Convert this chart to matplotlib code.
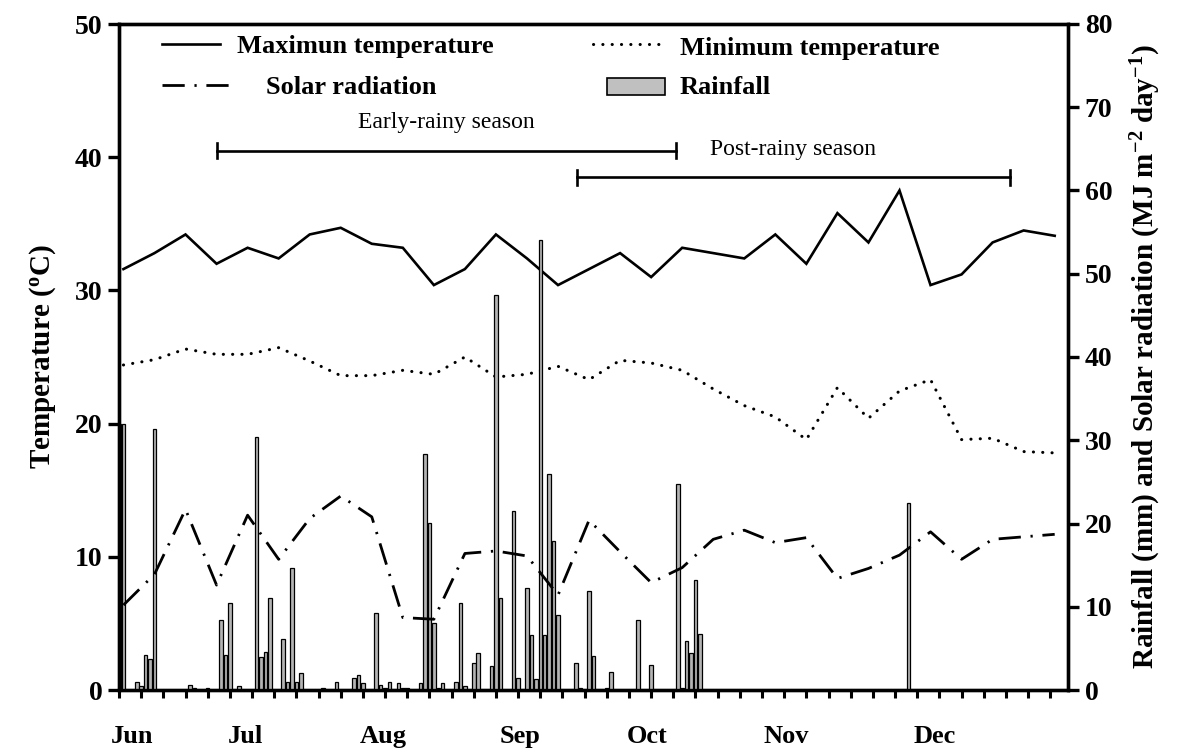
import matplotlib
matplotlib.use("Agg")
import matplotlib.pyplot as plt
from matplotlib.lines import Line2D
from matplotlib.patches import Rectangle

plt.rcParams['font.family'] = ['Liberation Serif', 'DejaVu Serif']
plt.rcParams['mathtext.fontset'] = 'custom'
plt.rcParams['mathtext.rm'] = 'Liberation Serif:bold'
plt.rcParams['mathtext.it'] = 'Liberation Serif:bold'
plt.rcParams['mathtext.bf'] = 'Liberation Serif:bold'

# ---------------- data ----------------
week_day = [1, 8, 15, 22, 29, 36, 43, 50, 57, 64, 71, 78, 85, 92, 99, 106,
            113, 120, 127, 134, 141, 148, 155, 162, 169, 176, 183, 190, 197, 204, 211]
tmax = [31.6, 32.8, 34.2, 32.0, 33.2, 32.4, 34.2, 34.7, 33.5, 33.2, 30.4, 31.6,
        34.2, 32.4, 30.4, 31.6, 32.8, 31.0, 33.2, 32.8, 32.4, 34.2, 32.0, 35.8,
        33.6, 37.5, 30.4, 31.2, 33.6, 34.5, 34.1]
tmin = [24.4, 24.8, 25.6, 25.2, 25.2, 25.7, 24.7, 23.6, 23.6, 24.0, 23.7, 25.0,
        23.5, 23.7, 24.3, 23.3, 24.75, 24.55, 24.0, 22.6, 21.35, 20.5, 18.8, 22.7,
        20.4, 22.45, 23.3, 18.8, 18.9, 17.9, 17.8]
solar = [10.2, 13.9, 21.7, 12.6, 21.0, 15.7, 20.6, 23.3, 20.8, 8.7, 8.5, 16.4,
         16.7, 16.1, 11.4, 20.4, 16.6, 12.9, 14.7, 18.1, 19.2, 17.7, 18.3, 13.4,
         14.6, 16.2, 19.0, 15.7, 18.1, 18.4, 18.7]

rain_day = [0, 1, 4, 5, 6, 7, 8, 16, 17, 20, 23, 24, 25, 27, 31, 32, 33, 34, 37, 38,
            39, 40, 41, 46, 49, 53, 54, 55, 58, 59, 60, 61, 63, 64, 65, 68, 69, 70,
            71, 72, 73, 76, 77, 78, 80, 81, 84, 85, 86, 89, 90, 92, 93, 94, 95, 96,
            97, 98, 99, 103, 104, 106, 107, 110, 111, 117, 120, 126, 127, 128, 129,
            130, 131, 178]
rain_mm = [32.0, 32.0, 1.0, 0.45, 4.2, 3.7, 31.4, 0.55, 0.3, 0.3, 8.4, 4.2, 10.5, 0.5,
           30.4, 4.0, 4.6, 11.0, 6.1, 1.0, 14.7, 1.0, 2.1, 0.3, 1.0, 1.4, 1.8, 0.85,
           9.2, 0.65, 0.3, 1.0, 0.8, 0.3, 0.3, 0.8, 28.3, 20.1, 8.1, 0.2, 0.8, 1.0,
           10.5, 0.45, 3.3, 4.4, 2.9, 47.5, 11.0, 21.5, 1.5, 12.3, 6.6, 1.3, 54.1,
           6.6, 26.0, 17.9, 9.0, 3.3, 0.25, 11.9, 4.1, 0.25, 2.2, 8.4, 3.0, 24.8,
           0.3, 5.9, 4.5, 13.2, 6.7, 22.5]

month_labels = ['Jun', 'Jul', 'Aug', 'Sep', 'Oct', 'Nov', 'Dec']
month_pos = [3, 28.5, 59.5, 90.5, 119, 150.5, 184]

seasons = ['Early-rainy season', 'Post-rainy season']
season_start = [22, 103.3]
season_end = [125.6, 200.9]
season_level = [40.5, 38.5]

# ---------------- figure ----------------
W, H = 1184, 754
fig = plt.figure(figsize=(W / 100, H / 100), dpi=100)
L, R, T, B = 119, 1068, 24, 690
ax = fig.add_axes([L / W, 1 - B / H, (R - L) / W, (B - T) / H])
ax2 = ax.twinx()

FS = 19
bold = dict(fontsize=FS, fontweight='bold')

# temperatures
ax.plot(week_day, tmax, color='black', lw=1.9, solid_joinstyle='miter')
ax.plot(week_day, tmin, color='black', lw=2.2, linestyle=(0, (0.05, 3.0)),
        dash_capstyle='round')
ax.set_xlim(0, 214)
ax.set_ylim(0, 50)
ax.set_yticks([0, 10, 20, 30, 40, 50])
ax.set_xticks(list(range(0, 214, 5)))
ax.set_xticklabels([])

# rainfall + solar
ax2.bar(rain_day, rain_mm, width=0.8, color='#b4b4b4', edgecolor='black', linewidth=0.9,
        zorder=2)
ax2.plot(week_day, solar, color='black', lw=2.0, linestyle=(0, (8, 3.5, 0.8, 3.5)),
         zorder=3)
ax2.set_ylim(0, 80)
ax2.set_yticks([0, 10, 20, 30, 40, 50, 60, 70, 80])

for a in (ax, ax2):
    for s in a.spines.values():
        s.set_linewidth(2.4)
ax.tick_params(axis='y', direction='out', length=8, width=2.4, pad=4, labelsize=FS + 1)
ax.tick_params(axis='x', direction='out', length=6, width=2.2, pad=4)
ax2.tick_params(axis='y', direction='out', length=8, width=2.4, pad=4, labelsize=FS + 1)
for lab in ax.get_yticklabels() + ax2.get_yticklabels():
    lab.set_fontweight('bold')

ax.set_ylabel('Temperature ($^{\\mathrm{o}}$C)', labelpad=12, fontsize=21,
              fontweight='bold')
ax2.set_ylabel('Rainfall (mm) and Solar radiation (MJ m$^{-2}$ day$^{-1}$)',
               labelpad=12, fontsize=21, fontweight='bold')

# month labels
for lab, pos in zip(month_labels, month_pos):
    ax.text(pos, -2.6, lab, ha='center', va='top', clip_on=False, **bold)

# seasons
for name, s, e, lv in zip(seasons, season_start, season_end, season_level):
    ax.plot([s, e], [lv, lv], color='black', lw=1.9)
    ax.plot([s, s], [lv - 0.55, lv + 0.55], color='black', lw=1.9)
    ax.plot([e, e], [lv - 0.55, lv + 0.55], color='black', lw=1.9)
    ax.text((s + e) / 2, lv + 1.3, name, ha='center', va='bottom', fontsize=FS - 2)

# legend (manual)
def fx(x):
    return x / W

def fy(y):
    return 1 - y / H

fig.add_artist(Line2D([fx(162), fx(220)], [fy(44), fy(44)], color='black', lw=1.9))
fig.text(fx(237), fy(46), 'Maximun temperature', va='center', ha='left', **bold)
fig.add_artist(Line2D([fx(593), fx(665)], [fy(44), fy(44)], color='black', lw=2.2,
                      linestyle=(0, (0.05, 3.0)), dash_capstyle='round'))
fig.text(fx(680), fy(48), 'Minimum temperature', va='center', ha='left', **bold)
fig.add_artist(Line2D([fx(162), fx(237)], [fy(85), fy(85)], color='black', lw=2.0,
                      linestyle=(0, (8, 3.5, 0.8, 3.5))))
fig.text(fx(266), fy(87), 'Solar radiation', va='center', ha='left', **bold)
fig.add_artist(Rectangle((fx(607), fy(95)), fx(665) - fx(607), fy(78) - fy(95),
                         transform=fig.transFigure, facecolor='#c0c0c0',
                         edgecolor='black', lw=1.2))
fig.text(fx(680), fy(87), 'Rainfall', va='center', ha='left', **bold)

fig.savefig('out.png', dpi=100)
